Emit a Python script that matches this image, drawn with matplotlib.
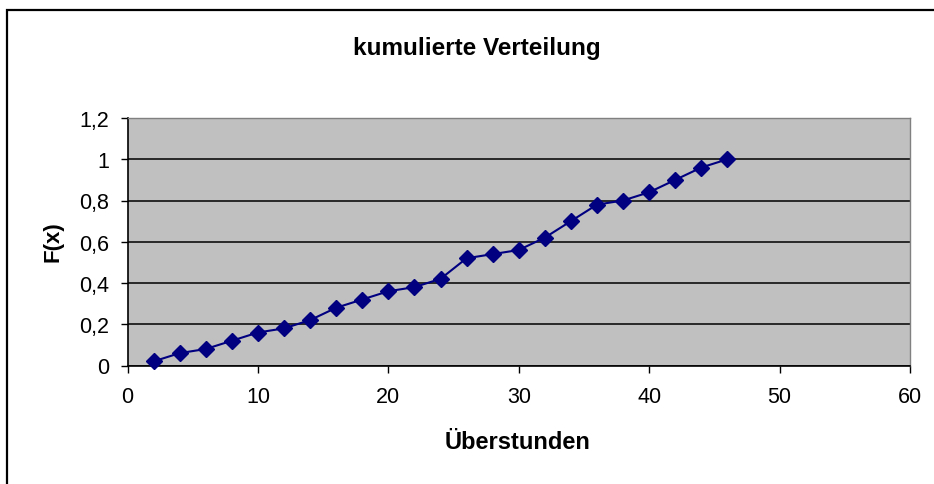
import matplotlib
matplotlib.use("Agg")
import matplotlib.pyplot as plt
from matplotlib.patches import Rectangle

# cumulative distribution of overtime hours
stunden = [2, 4, 6, 8, 10, 12, 14, 16, 18, 20, 22, 24,
           26, 28, 30, 32, 34, 36, 38, 40, 42, 44, 46]
fx = [0.02, 0.06, 0.08, 0.12, 0.16, 0.18, 0.22, 0.28, 0.32, 0.36, 0.38, 0.42,
      0.52, 0.54, 0.56, 0.62, 0.70, 0.78, 0.80, 0.84, 0.90, 0.96, 1.00]

x_ticks = [0, 10, 20, 30, 40, 50, 60]
y_ticks = [0, 0.2, 0.4, 0.6, 0.8, 1.0, 1.2]
y_labels = ["0", "0,2", "0,4", "0,6", "0,8", "1", "1,2"]

plt.rcParams["font.family"] = ["Liberation Sans", "DejaVu Sans"]

W, H = 934, 485
fig = plt.figure(figsize=(W / 100, H / 100), dpi=100)

# outer chart frame (runs off the right and bottom edge)
fig.patches.append(Rectangle((7 / W, -0.1), 1.2, 1.1 - 10.5 / H,
                             transform=fig.transFigure, fill=False,
                             edgecolor="black", linewidth=1.6))

ax = fig.add_axes([127.5 / W, 1 - 366.5 / H, (910 - 127.5) / W, (366.5 - 119) / H])
ax.set_facecolor("#C0C0C0")

ax.plot(stunden, fx, color="#000080", linewidth=1.5, marker="D",
        markersize=8.5, markerfacecolor="#000080", markeredgecolor="#000080",
        zorder=3, clip_on=False)

ax.set_xlim(0, 60)
ax.set_ylim(0, 1.2)
ax.set_xticks(x_ticks)
ax.set_yticks(y_ticks)
ax.set_yticklabels(y_labels)
ax.yaxis.grid(True, color="black", linewidth=1.1)
ax.set_axisbelow(True)

ax.tick_params(axis="both", direction="out", length=5, width=1, labelsize=15.5, color="black")
ax.tick_params(axis="x", pad=10)
ax.tick_params(axis="y", pad=8)

for side in ("top", "right"):
    ax.spines[side].set_color("#808080")
    ax.spines[side].set_linewidth(1.0)
for side in ("bottom", "left"):
    ax.spines[side].set_color("black")
    ax.spines[side].set_linewidth(1.2)

fig.text(477 / W, 1 - 48 / H, "kumulierte Verteilung", ha="center", va="center",
         fontsize=17.5, fontweight="bold")
fig.text(518 / W, 1 - 443 / H, "Überstunden", ha="center", va="center",
         fontsize=17, fontweight="bold")
fig.text(53 / W, 1 - 242 / H, "F(x)", ha="center", va="center", rotation=90,
         fontsize=16, fontweight="bold")

fig.savefig("out.png", dpi=100)
